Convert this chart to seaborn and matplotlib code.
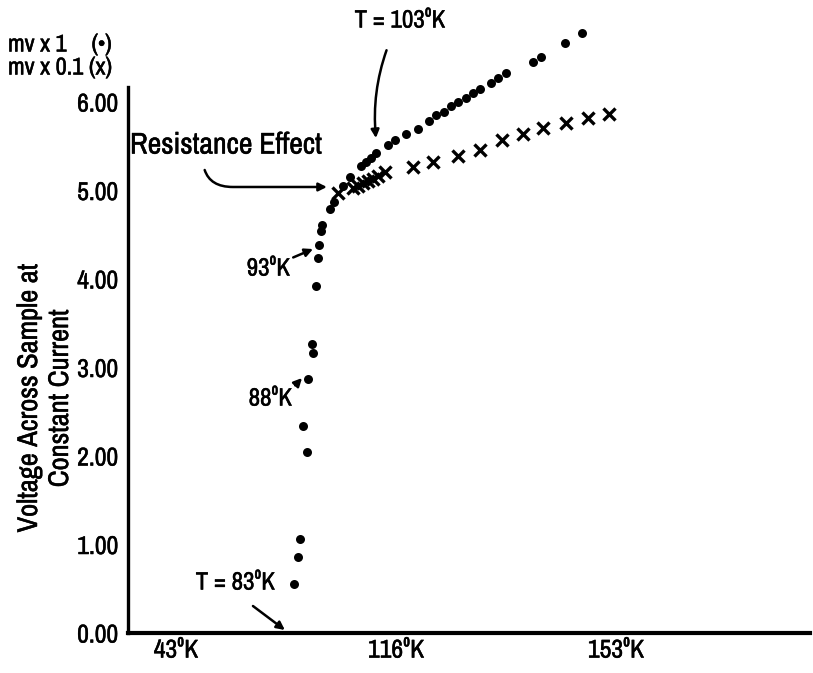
import matplotlib
matplotlib.use("Agg")
import matplotlib.pyplot as plt
import matplotlib.patheffects as pe
import seaborn as sns
import pandas as pd

# ---- data (x in axis-position units: tick 43K=1, 116K=2, 153K=3) ----
dots_x = [1.536, 1.555, 1.564, 1.577, 1.595, 1.600, 1.618, 1.623, 1.636, 1.645,
          1.650, 1.659, 1.664, 1.700, 1.718, 1.759, 1.791, 1.841, 1.864, 1.886,
          1.909, 1.964, 1.995, 2.045, 2.100, 2.150, 2.182, 2.218, 2.250, 2.282,
          2.318, 2.350, 2.382, 2.432, 2.464, 2.500, 2.623, 2.659, 2.768, 2.845]
dots_y = [0.554, 0.859, 1.062, 2.339, 2.045, 2.870, 3.266, 3.164, 3.921, 4.237,
          4.384, 4.542, 4.610, 4.791, 4.870, 5.051, 5.153, 5.277, 5.322, 5.367,
          5.424, 5.514, 5.571, 5.638, 5.695, 5.785, 5.853, 5.887, 5.955, 6.000,
          6.045, 6.102, 6.147, 6.215, 6.271, 6.328, 6.452, 6.508, 6.667, 6.780]
cross_x = [1.736, 1.805, 1.827, 1.850, 1.873, 1.895, 1.918, 1.950, 2.077, 2.168,
           2.282, 2.382, 2.482, 2.577, 2.668, 2.773, 2.873, 2.968]
cross_y = [4.972, 5.028, 5.051, 5.085, 5.107, 5.130, 5.164, 5.209, 5.266, 5.322,
           5.390, 5.458, 5.571, 5.638, 5.706, 5.763, 5.819, 5.864]
x_tick_pos = [1, 2, 3]
x_tick_labels = ["43⁰K", "116⁰K", "153⁰K"]
y_ticks = [0, 1, 2, 3, 4, 5, 6]
y_tick_labels = ["0.00", "1.00", "2.00", "3.00", "4.00", "5.00", "6.00"]

sns.set_style("white")
plt.rcParams["font.family"] = ["Archivo Narrow", "DejaVu Sans"]
plt.rcParams["font.stretch"] = "condensed"
plt.rcParams["text.color"] = "black"

BOLD = [pe.withStroke(linewidth=0.35, foreground="black")]

fig = plt.figure(figsize=(8.13, 6.73), dpi=100)
ax = fig.add_axes([128 / 813, 40 / 673, 682 / 813, 633 / 673])

dots = pd.DataFrame({"x": dots_x, "y": dots_y})
crosses = pd.DataFrame({"x": cross_x, "y": cross_y})
sns.scatterplot(data=dots, x="x", y="y", marker="o", s=42, color="black",
                edgecolor="black", linewidth=0, ax=ax)
sns.scatterplot(data=crosses, x="x", y="y", marker="x", s=75, color="black",
                linewidth=2.4, ax=ax)

ax.set_xlim(0.782, 3.882)
ax.set_ylim(0, 7.153)
ax.set_xlabel("")
ax.set_ylabel("")

for s in ["top", "right"]:
    ax.spines[s].set_visible(False)
ax.spines["left"].set_linewidth(2.4)
ax.spines["bottom"].set_linewidth(3.0)
ax.spines["left"].set_color("black")
ax.spines["bottom"].set_color("black")
ax.spines["left"].set_bounds(0, 6.17)

ax.set_xticks(x_tick_pos)
ax.set_xticklabels(x_tick_labels)
ax.set_yticks(y_ticks)
ax.set_yticklabels(y_tick_labels)
ax.tick_params(axis="both", direction="in", length=14, width=1.8, colors="black",
               labelsize=18.5)
ax.tick_params(axis="y", pad=7)
ax.tick_params(axis="x", pad=4)
for lab in ax.get_xticklabels() + ax.get_yticklabels():
    lab.set_path_effects(BOLD)

fs = 18
arrow = dict(arrowstyle="-|>", color="black", lw=1.8, mutation_scale=12)
ax.annotate("T = 103⁰K", xy=(1.909, 5.593), xytext=(2.018, 6.927),
            ha="center", va="center", fontsize=fs, path_effects=BOLD,
            arrowprops=dict(arrow, connectionstyle="arc3,rad=0.15",
                            shrinkA=12, shrinkB=0))
ax.annotate("Resistance Effect", xy=(1.686, 5.040), xytext=(0.791, 5.514),
            ha="left", va="center", fontsize=21.5, path_effects=BOLD,
            arrowprops=dict(arrowstyle="-|>", color="black", lw=1.8, mutation_scale=12,
                            connectionstyle="angle,angleA=-90,angleB=0,rad=30",
                            shrinkA=6, shrinkB=0, relpos=(0.38, 0.0)))
ax.annotate("93⁰K", xy=(1.623, 4.339), xytext=(1.518, 4.124),
            ha="right", va="center", fontsize=fs, path_effects=BOLD,
            arrowprops=dict(arrow, shrinkA=0, shrinkB=0, relpos=(1.0, 0.9)))
ax.annotate("88⁰K", xy=(1.573, 2.881), xytext=(1.527, 2.655),
            ha="right", va="center", fontsize=fs, path_effects=BOLD,
            arrowprops=dict(arrow, shrinkA=0, shrinkB=0, relpos=(1.0, 0.9)))
ax.annotate("", xy=(1.495, 0.034), xytext=(1.35, 0.305),
            arrowprops=dict(arrow, shrinkA=0, shrinkB=0))
ax.text(1.45, 0.576, "T = 83⁰K", ha="right", va="center", fontsize=fs,
        path_effects=BOLD)

fig.text(8 / 813, 1 - 45 / 673, "mv x 1", ha="left", va="center", fontsize=17.5,
         path_effects=BOLD)
fig.text(112 / 813, 1 - 45 / 673, "(•)", ha="right", va="center", fontsize=17.5,
         path_effects=BOLD)
fig.text(8 / 813, 1 - 68 / 673, "mv x 0.1 (x)", ha="left", va="center", fontsize=17.5,
         path_effects=BOLD)

fig.text(45 / 813, 1 - 398 / 673, "Voltage Across Sample at\nConstant Current",
         rotation=90, ha="center", va="center", fontsize=20.5, linespacing=1.3,
         multialignment="center", path_effects=BOLD)

fig.savefig("out.png", dpi=100, facecolor="white")
